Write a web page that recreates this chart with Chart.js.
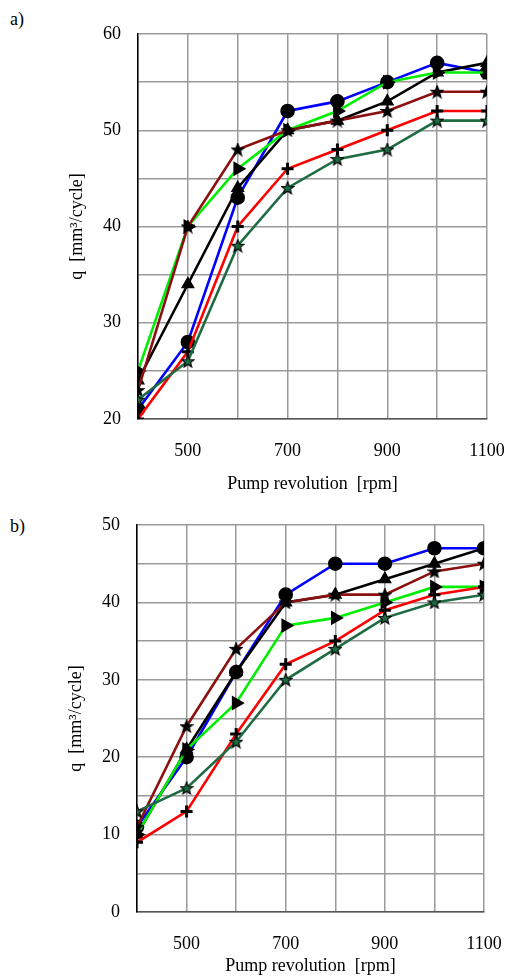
<!DOCTYPE html>
<html>
<head>
<meta charset="utf-8">
<script src="https://cdn.jsdelivr.net/npm/chart.js@4.4.1/dist/chart.umd.min.js"></script>
<style>
  body { margin: 0; background: #fff; width: 515px; height: 977px; overflow: hidden; position: relative; }
  .panel { position: absolute; left: 0; width: 515px; }
  .tag { position: absolute; left: 10px; font: 18px "Liberation Serif", serif; color: #000; }
</style>
</head>
<body>
<div class="tag" style="top:9px">a)</div>
<div class="panel" style="top:0; height:495px"><canvas id="chartA"></canvas></div>
<div class="tag" style="top:516px">b)</div>
<div class="panel" style="top:495px; height:482px"><canvas id="chartB"></canvas></div>
<script>
const rpm = [400, 500, 600, 700, 800, 900, 1000, 1100];
const xLabels = [500, 700, 900, 1100];

// panel a
const aBlue     = [21, 28, 43, 52, 53, 55, 57, 56];
const aBlack    = [24, 34, 44, 50, 51, 53, 56, 57];
const aGreen    = [25, 40, 46, 50, 52, 55, 56, 56];
const aRed      = [20, 27, 40, 46, 48, 50, 52, 52];
const aDarkRed  = [23, 40, 48, 50, 51, 52, 54, 54];
const aDarkGrn  = [22, 26, 38, 44, 47, 48, 51, 51];

// panel b
const bBlue     = [11, 20, 31, 41, 45, 45, 47, 47];
const bBlack    = [10, 21, 31, 40, 41, 43, 45, 47];
const bGreen    = [10, 21, 27, 37, 38, 40, 42, 42];
const bRed      = [9, 13, 23, 32, 35, 39, 41, 42];
const bDarkRed  = [11, 24, 34, 40, 41, 41, 44, 45];
const bDarkGrn  = [13, 16, 22, 30, 34, 38, 40, 41];

const serif = '"Liberation Serif", "Times New Roman", serif';

function makeStar(fill) {
    const c = document.createElement('canvas');
    c.width = 14; c.height = 14;
    const g = c.getContext('2d');
    g.beginPath();
    for (let i = 0; i < 10; i++) {
        const r = i % 2 === 0 ? 6.5 : 2.8;
        const a = -Math.PI / 2 + i * Math.PI / 5;
        const px = 7 + r * Math.cos(a), py = 7.5 + r * Math.sin(a);
        if (i === 0) g.moveTo(px, py); else g.lineTo(px, py);
    }
    g.closePath();
    g.fillStyle = fill;
    g.fill();
    g.lineWidth = 1.2;
    g.strokeStyle = '#000';
    g.stroke();
    return c;
}

function series(vals, color, style, extra) {
    return Object.assign({
        data: vals.map((v, i) => ({ x: rpm[i], y: v })),
        borderColor: color,
        borderWidth: 2.6,
        pointStyle: style,
        pointBackgroundColor: '#000',
        pointBorderColor: '#000',
        pointRadius: 5,
        tension: 0
    }, extra || {});
}

function buildDatasets(blue, black, green, red, darkRed, darkGrn) {
    return [
        series(darkGrn, '#1e6b42', makeStar('#1e6b42')),
        series(red, '#ff0000', 'cross', { pointRadius: 6, pointBorderWidth: 3 }),
        series(darkRed, '#8b1010', makeStar('#000')),
        series(green, '#00ee00', 'triangle', { pointRotation: 90, pointRadius: 6 }),
        series(black, '#000000', 'triangle', { pointRadius: 5.5 }),
        series(blue, '#0000ff', 'circle', { pointRadius: 6 })
    ];
}

function makeChart(id, datasets, yMin, yMax, pad, xHeight) {
    new Chart(document.getElementById(id), {
        type: 'line',
        data: { datasets: datasets },
        options: {
            responsive: true,
            maintainAspectRatio: false,
            animation: false,
            layout: { padding: pad },
            plugins: { legend: { display: false }, tooltip: { enabled: false } },
            scales: {
                x: {
                    type: 'linear', min: 400, max: 1100,
                    border: { color: '#555', width: 1.5 },
                    grid: { color: '#9a9a9a', lineWidth: 1.5, drawTicks: false },
                    ticks: {
                        stepSize: 100, padding: 21, color: '#000',
                        font: { family: serif, size: 18 },
                        callback: v => xLabels.includes(v) ? String(v) : ''
                    },
                    title: {
                        display: true, text: 'Pump revolution  [rpm]', color: '#000',
                        font: { family: serif, size: 18 }, padding: { top: 2, bottom: 0 }
                    },
                    afterFit: s => { s.height = xHeight; s.paddingRight = 0; s.paddingLeft = 0; }
                },
                y: {
                    min: yMin, max: yMax,
                    border: { color: '#000', width: 1.5 },
                    grid: { color: '#9a9a9a', lineWidth: 1.5, drawTicks: false },
                    ticks: {
                        stepSize: 5, padding: 17, color: '#000',
                        font: { family: serif, size: 18 },
                        callback: v => v % 10 === 0 ? String(v) : ''
                    },
                    title: {
                        display: true, text: 'q  [mm³/cycle]', color: '#000',
                        font: { family: serif, size: 18 }, padding: { top: 0, bottom: 0 }
                    },
                    afterFit: s => { s.width = 72; s.paddingTop = 0; s.paddingBottom = 0; }
                }
            }
        }
    });
}

makeChart('chartA', buildDatasets(aBlue, aBlack, aGreen, aRed, aDarkRed, aDarkGrn),
    20, 60, { left: 66, right: 28, top: 34, bottom: 0 }, 76);
makeChart('chartB', buildDatasets(bBlue, bBlack, bGreen, bRed, bDarkRed, bDarkGrn),
    0, 50, { left: 65, right: 31, top: 30, bottom: 0 }, 65);
</script>
</body>
</html>
